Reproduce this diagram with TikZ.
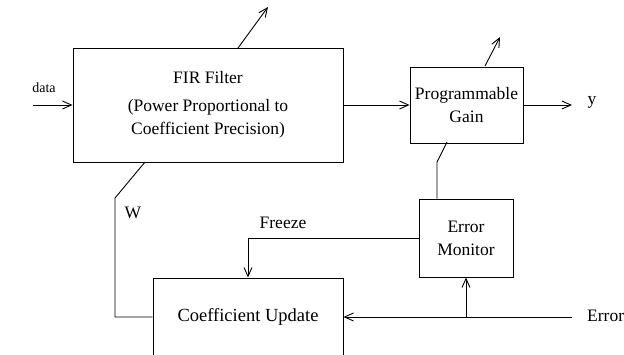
\documentclass[tikz,border=0pt]{standalone}
\usepackage{fontspec}
\setmainfont{Liberation Serif}
\usetikzlibrary{arrows.meta,positioning,calc}

\tikzset{
  blk/.style={rectangle,draw,line width=0.9pt,align=center,inner sep=0pt,
    font=\fontsize{17.5}{23}\selectfont},
  lbl/.style={inner sep=0pt,font=\fontsize{17.5}{21}\selectfont},
  sig/.style={line width=0.9pt,-{Straight Barb[length=9pt,width=8pt,line width=0.9pt]}},
  wire/.style={line width=0.9pt}
}

\begin{document}
\begin{tikzpicture}[x=1pt,y=-1pt]
    \useasboundingbox (0,0) rectangle (624,354);
    \clip (0,0) rectangle (624,354);

    % FIR filter
    \node[blk,minimum width=270pt,minimum height=114pt] (fir) at (208,105)
      {FIR Filter\\[5pt](Power Proportional to\\Coefficient Precision)};
    \node[lbl,font=\fontsize{14}{17}\selectfont] (datalab) at (44,88) {data};
    \coordinate (din) at (33,105);
    \draw[sig] (din) -- (fir.west);

    % Programmable gain
    \node[blk,minimum width=113pt,minimum height=76pt] (gain) at (466.5,105) {Programmable\\Gain};
    \draw[sig] (fir.east) -- (gain.west);
    \node[lbl] (ylab) at (592,102) {y};
    \coordinate (yout) at (572,105);
    \draw[sig] (gain.east) -- (yout);

    % Error monitor
    \node[blk,minimum width=94pt,minimum height=78pt] (mon) at (466,238) {Error\\Monitor};

    % Coefficient update
    \node[blk,minimum width=190pt,minimum height=78pt,font=\fontsize{18.5}{22}\selectfont] (upd) at (248,317) {Coefficient Update};

    % Variable precision (through FIR)
    \coordinate (firtop) at (238,48);
    \coordinate (firtip) at (268,7);
    \draw[sig] (firtop) -- (firtip);
    \coordinate (wtap) at (145,162);
    \coordinate (wbend) at (115,198);
    \draw[wire] (wtap) -- (wbend) |- (upd.west);
    \node[lbl] (wlab) at (133,213) {W};

    % Variable gain
    \coordinate (gaintop) at (485,66);
    \coordinate (gaintip) at (500,37);
    \draw[sig] (gaintop) -- (gaintip);
    \coordinate (gtap) at (447,142);
    \coordinate (gbend) at (437,162);
    \draw[wire] (gtap) -- (gbend) -- (gbend |- mon.north);

    % Freeze
    \draw[sig] (mon.west) -| (upd.north);
    \node[lbl] (frzlab) at (283,223) {Freeze};

    % Error input
    \node[lbl,anchor=west] (errlab) at (587,316) {Error};
    \coordinate (errin) at (572,317);
    \draw[sig] (errin) -- (upd.east);
    \coordinate (etap) at (mon.south |- upd.east);
    \draw[sig] (etap) -- (mon.south);
\end{tikzpicture}
\end{document}
